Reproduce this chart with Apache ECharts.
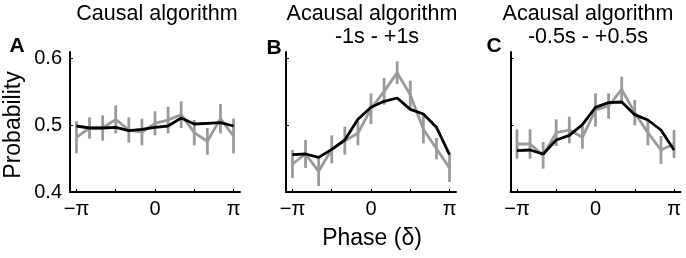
<!DOCTYPE html>
<html>
<head>
<meta charset="utf-8">
<script src="https://cdn.jsdelivr.net/npm/echarts@6/dist/echarts.min.js"></script>
<style>
  html, body { margin: 0; padding: 0; background: #fff; }
  #main { width: 686px; height: 258px; }
</style>
</head>
<body>
<div id="main"></div>
<script>
// phase bins, in units of pi
var phaseBins = [-1, -5/6, -4/6, -3/6, -2/6, -1/6, 0, 1/6, 2/6, 3/6, 4/6, 5/6, 1];

// A: causal algorithm
var grayA  = [0.482, 0.496, 0.496, 0.509, 0.493, 0.490, 0.503, 0.508, 0.516, 0.489, 0.476, 0.510, 0.484];
var errA   = [0.024, 0.016, 0.019, 0.021, 0.019, 0.020, 0.018, 0.020, 0.020, 0.019, 0.020, 0.022, 0.026];
var blackA = [0.499, 0.496, 0.496, 0.497, 0.492, 0.494, 0.497, 0.499, 0.511, 0.502, 0.503, 0.504, 0.499];

// B: acausal -1s - +1s
var grayB  = [0.442, 0.457, 0.431, 0.464, 0.477, 0.488, 0.525, 0.551, 0.579, 0.546, 0.494, 0.465, 0.436];
var errB   = [0.021, 0.021, 0.022, 0.021, 0.021, 0.018, 0.023, 0.020, 0.017, 0.021, 0.021, 0.016, 0.021];
var blackB = [0.456, 0.457, 0.452, 0.464, 0.478, 0.509, 0.527, 0.536, 0.541, 0.524, 0.517, 0.497, 0.456];

// C: acausal -0.5s - +0.5s
var grayC  = [0.472, 0.472, 0.455, 0.489, 0.493, 0.482, 0.523, 0.529, 0.554, 0.519, 0.489, 0.463, 0.472];
var errC   = [0.022, 0.022, 0.020, 0.020, 0.020, 0.017, 0.025, 0.019, 0.019, 0.019, 0.019, 0.021, 0.021];
var blackC = [0.462, 0.463, 0.457, 0.478, 0.485, 0.501, 0.527, 0.534, 0.535, 0.516, 0.508, 0.493, 0.463];

var yTicks = [0.4, 0.5, 0.6];
var xTicks = [-1, -0.5, 0, 0.5, 1];
var xLabels = [-1, 0, 1];

var FONT = "'Liberation Sans', Arial, sans-serif";
var GRAY = '#9a9a9a';
var PI = Math.PI;

var panels = [
    {gray: grayA, err: errA, black: blackA, left: 70,  showY: true},
    {gray: grayB, err: errB, black: blackB, left: 286, showY: false},
    {gray: grayC, err: errC, black: blackC, left: 510.5, showY: false}
];

function xy(vals) {
    return vals.map(function (v, i) { return [phaseBins[i] * PI, v]; });
}

function piLabel(v) {
    if (Math.abs(v) < 1e-6) return '0';
    return v < 0 ? '\u2212\u03c0' : '\u03c0';
}

var grids = [], xAxes = [], yAxes = [], series = [];
panels.forEach(function (p, i) {
    grids.push({left: p.left, top: 52, width: 170, height: 140});
    xAxes.push({
        type: 'value', gridIndex: i, min: -3.4, max: 3.4,
        axisLine: {onZero: false, lineStyle: {color: '#000', width: 2}},
        axisTick: {inside: true, length: 3, lineStyle: {color: '#000'},
            customValues: xTicks.map(function (t) { return t * PI; })},
        axisLabel: {color: '#000', fontSize: 20, fontFamily: FONT, margin: 7,
            customValues: xLabels.map(function (t) { return t * PI; }),
            formatter: piLabel},
        splitLine: {show: false}
    });
    yAxes.push({
        type: 'value', gridIndex: i, min: 0.4, max: 0.61,
        axisLine: {show: true, onZero: false, lineStyle: {color: '#000', width: 2}},
        axisTick: {show: true, inside: true, length: 3, lineStyle: {color: '#000'},
            customValues: yTicks},
        axisLabel: {show: p.showY, color: '#000', fontSize: 20, fontFamily: FONT, margin: 8,
            customValues: yTicks,
            formatter: function (v) { return v.toFixed(1); }},
        splitLine: {show: false}
    });
    // error bars
    series.push({
        type: 'custom', xAxisIndex: i, yAxisIndex: i, silent: true,
        data: p.gray.map(function (v, k) { return [phaseBins[k] * PI, v - p.err[k], v + p.err[k]]; }),
        renderItem: function (params, api) {
            var a = api.coord([api.value(0), api.value(1)]);
            var b = api.coord([api.value(0), api.value(2)]);
            return {type: 'line', shape: {x1: a[0], y1: a[1], x2: b[0], y2: b[1]},
                style: {stroke: GRAY, lineWidth: 2.8}};
        }
    });
    series.push({
        type: 'line', xAxisIndex: i, yAxisIndex: i, data: xy(p.gray),
        showSymbol: false, silent: true, lineStyle: {color: GRAY, width: 2.8}
    });
    series.push({
        type: 'line', xAxisIndex: i, yAxisIndex: i, data: xy(p.black),
        showSymbol: false, silent: true, lineStyle: {color: '#000', width: 2.8}
    });
});

function txt(s, x, y, size, weight, rot) {
    return {type: 'text', x: x, y: y, rotation: rot || 0,
        style: {text: s, fill: '#000', font: (weight || 'normal') + ' ' + size + 'px ' + FONT,
            align: 'center', verticalAlign: 'middle'}};
}

var graphics = [
    txt('Causal algorithm', 157, 14, 21.5),
    txt('Acausal algorithm', 372, 14, 21.5),
    txt('-1s - +1s', 377, 37.5, 21.5),
    txt('Acausal algorithm', 588, 14, 21.5),
    txt('-0.5s - +0.5s', 588, 37.5, 21.5),
    txt('A', 17, 46.5, 21, 'bold'),
    txt('B', 274, 48, 21, 'bold'),
    txt('C', 494, 46.5, 21, 'bold'),
    txt('Probability', 13.5, 125, 23, 'normal', PI / 2),
    txt('Phase (\u03b4)', 372, 239, 23)
];

var myChart = echarts.init(document.getElementById('main'));
myChart.setOption({
    animation: false,
    grid: grids,
    xAxis: xAxes,
    yAxis: yAxes,
    series: series,
    graphic: graphics
});
</script>
</body>
</html>
